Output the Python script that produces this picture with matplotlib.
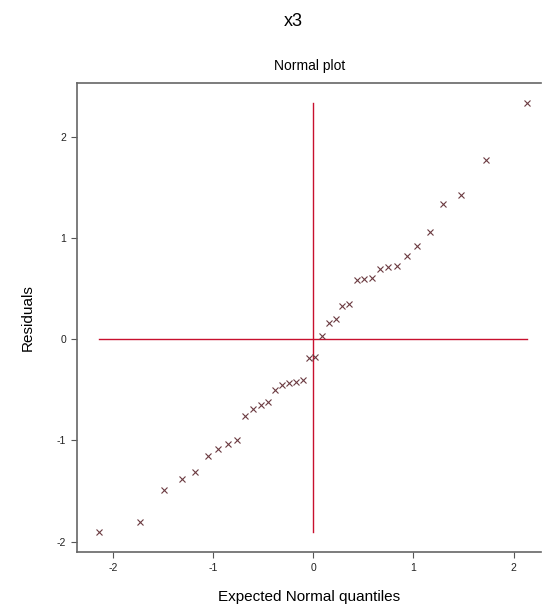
# Normal probability plot of residuals for x3

import matplotlib
matplotlib.use("Agg")
import matplotlib.pyplot as plt

plt.rcParams["axes.unicode_minus"] = False
plt.rcParams["font.family"] = ["Liberation Sans", "DejaVu Sans"]

# expected normal quantiles
quantiles = [-2.14, -1.73, -1.49, -1.31, -1.18, -1.05, -0.95, -0.85, -0.76,
             -0.68, -0.60, -0.52, -0.45, -0.38, -0.31, -0.24, -0.17, -0.10,
             -0.04, 0.02, 0.09, 0.16, 0.23, 0.29, 0.36, 0.44, 0.51, 0.59,
             0.67, 0.75, 0.84, 0.94, 1.04, 1.17, 1.30, 1.48, 1.72, 2.13]
residuals = [-1.90, -1.81, -1.49, -1.38, -1.31, -1.15, -1.08, -1.03, -1.00,
             -0.76, -0.69, -0.65, -0.62, -0.50, -0.45, -0.43, -0.42, -0.40,
             -0.19, -0.18, 0.03, 0.16, 0.20, 0.33, 0.35, 0.59, 0.60, 0.61,
             0.69, 0.71, 0.72, 0.82, 0.92, 1.06, 1.34, 1.43, 1.77, 2.33]
xticks = [-2, -1, 0, 1, 2]
yticks = [-2, -1, 0, 1, 2]

fig = plt.figure(figsize=(5.42, 6.10), dpi=100)
ax = fig.add_axes([0.1426, 0.0946, 0.856, 0.7698])

line_col = "#c8102e"
ax.plot([min(quantiles), max(quantiles)], [0, 0], color=line_col, lw=1.0)
ax.plot([0, 0], [min(residuals), max(residuals)], color=line_col, lw=1.0)
ax.plot(quantiles, residuals, ls="none", marker="x", ms=4.5, mew=0.8,
        color="#6b3a40")

ax.set_xlim(-2.36, 2.277)
ax.set_ylim(-2.105, 2.535)
ax.set_xticks(xticks)
ax.set_yticks(yticks)
ax.tick_params(direction="out", length=4, width=0.8, color="#555555",
               labelsize=7.5, labelcolor="#222222", pad=4)
ax.spines["right"].set_visible(False)
for s in ["left", "bottom", "top"]:
    ax.spines[s].set_color("#666666")
    ax.spines[s].set_linewidth(1.2)

ax.set_title("Normal plot", fontsize=10, pad=9)
ax.set_xlabel("Expected Normal quantiles", fontsize=11, labelpad=12)
ax.set_ylabel("Residuals", fontsize=11, labelpad=16)
fig.text(293 / 542, 1 - 21 / 610, "x3", fontsize=13, ha="center",
         va="center")

fig.savefig("out.png", dpi=100)
